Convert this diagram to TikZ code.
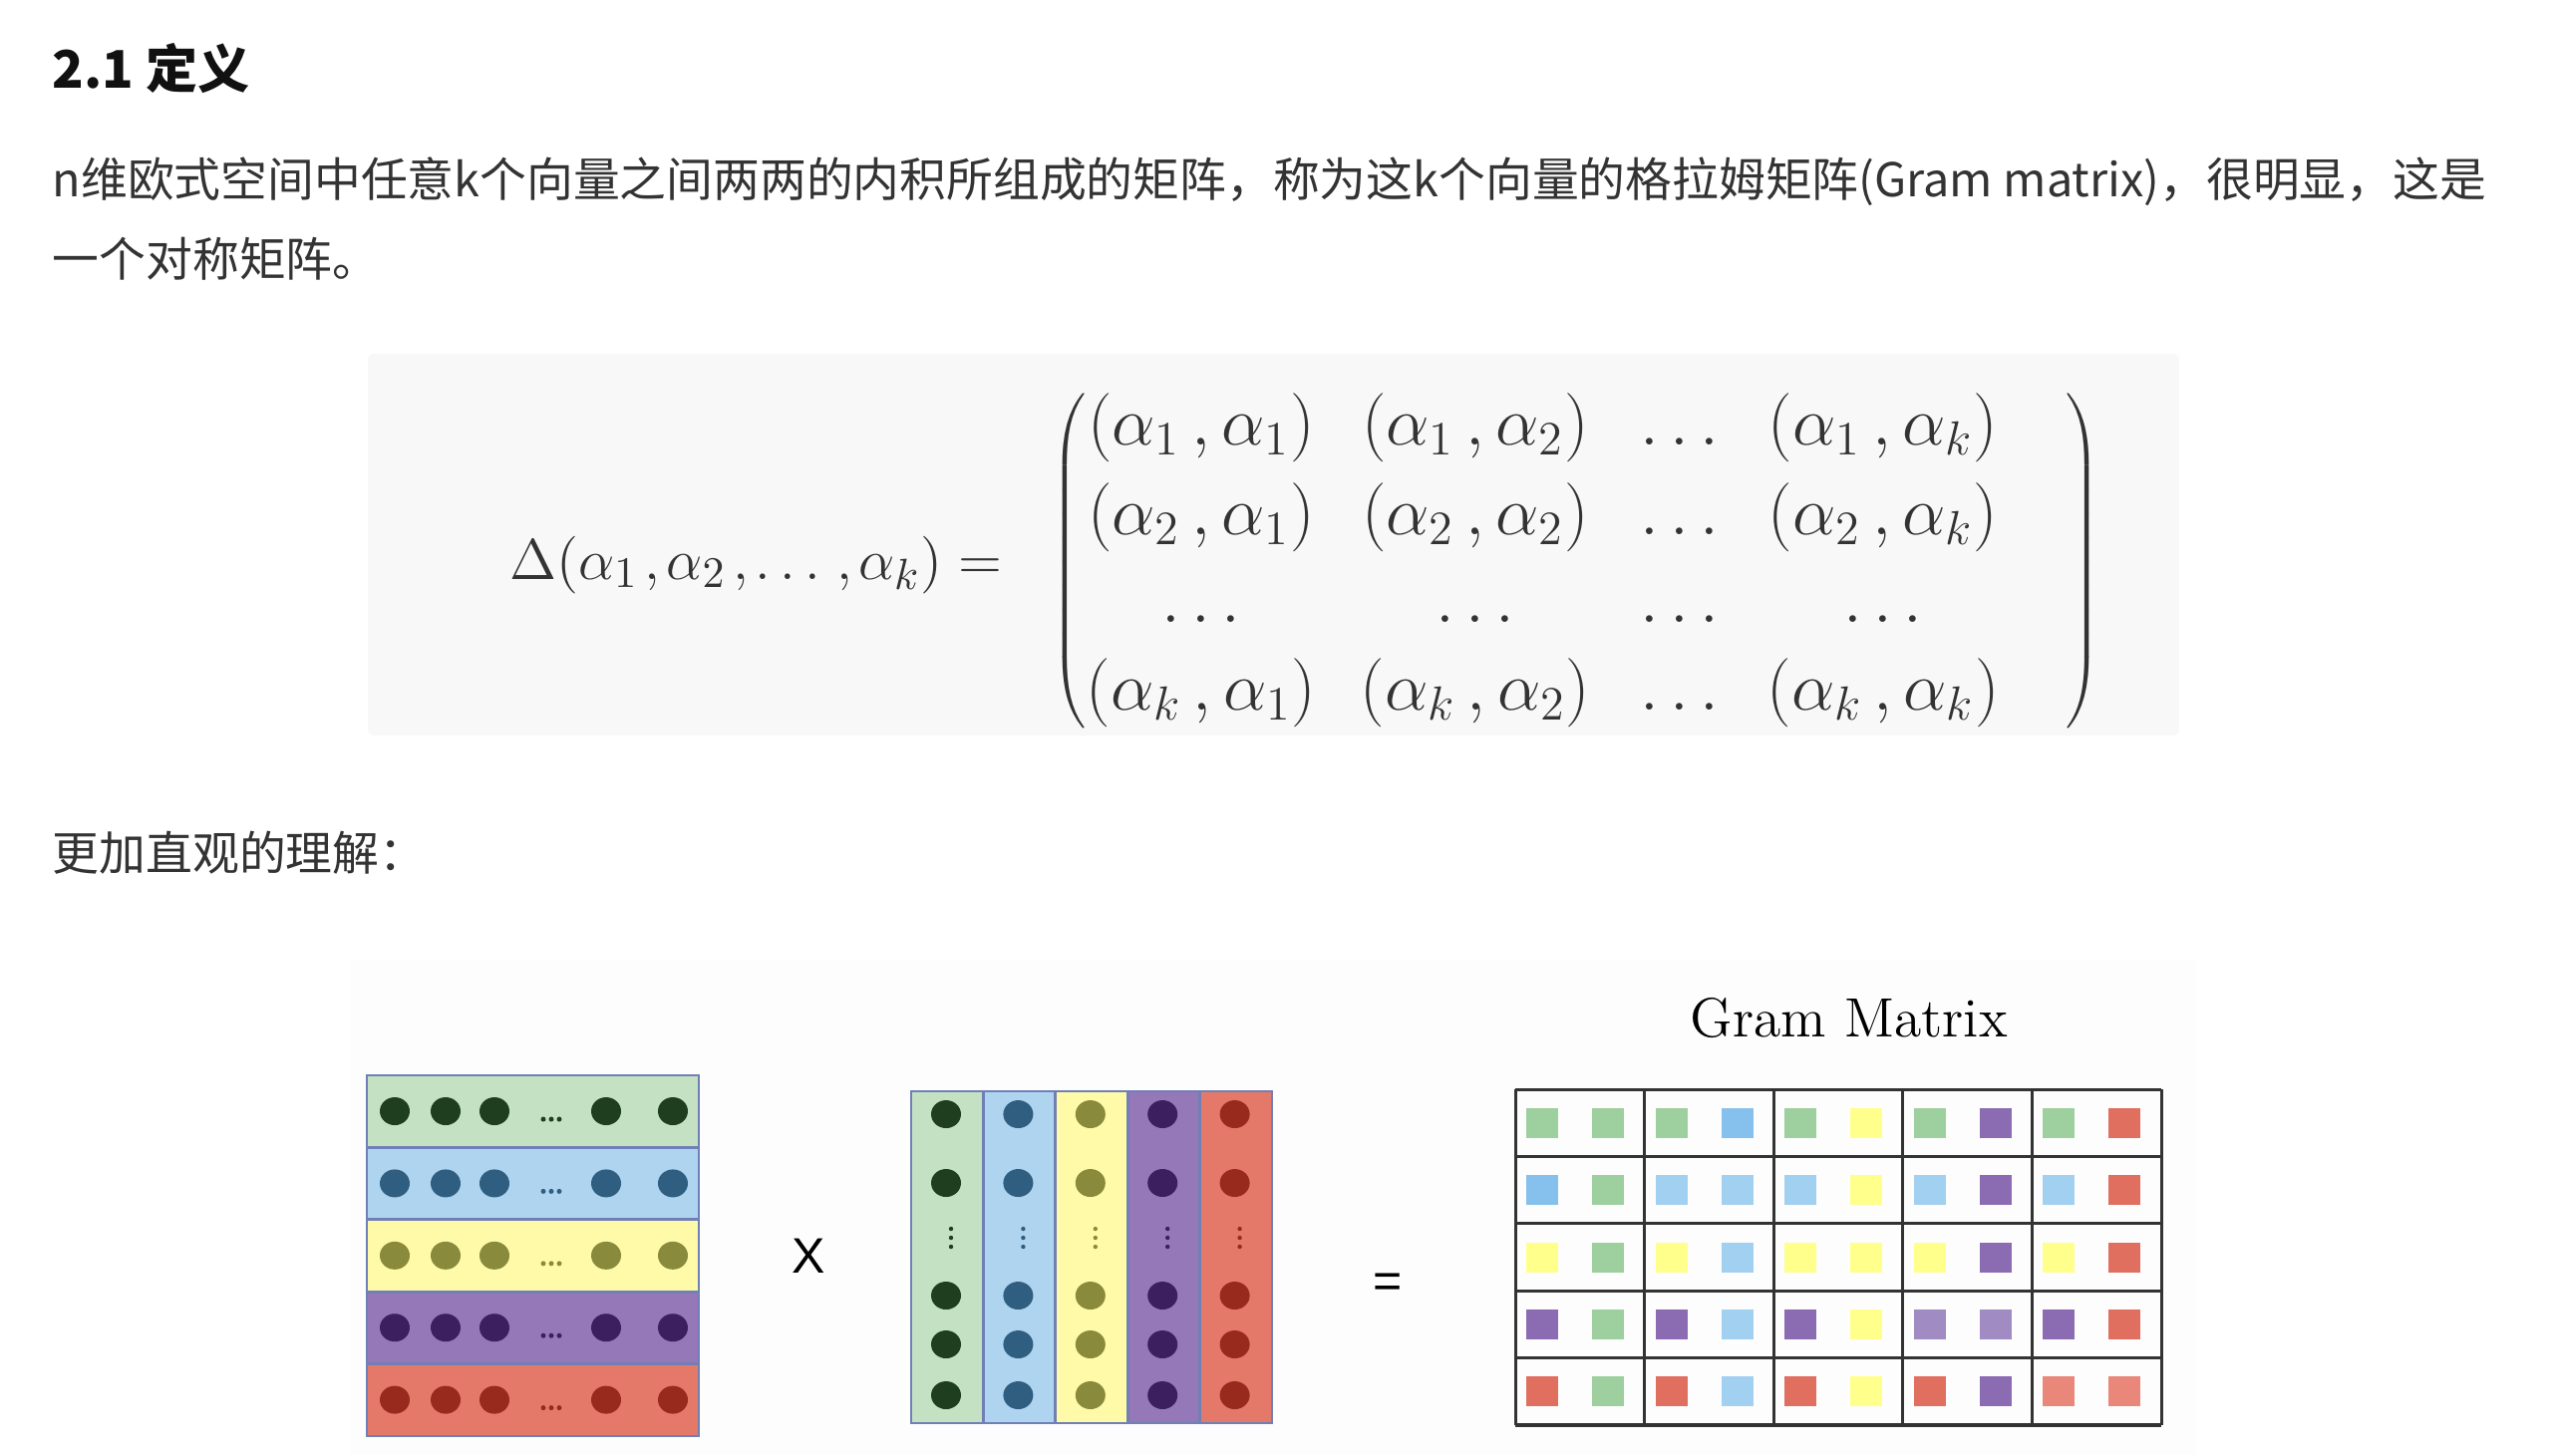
\documentclass[tikz,border=0pt]{standalone}
\usepackage[no-math]{fontspec}
\newfontfamily\cjk{Noto Sans CJK SC}
\newfontfamily\sansx{Liberation Sans}
\definecolor{txt}{HTML}{333333}
\definecolor{headc}{HTML}{111111}
\definecolor{boxbg}{HTML}{F8F8F8}
\definecolor{figbg}{HTML}{FDFDFD}
\definecolor{mathc}{HTML}{333333}
\definecolor{edge}{HTML}{7080B6}
\definecolor{gbg}{HTML}{C4E1C4}\definecolor{gdot}{HTML}{1F3D1F}
\definecolor{bbg}{HTML}{AED4F0}\definecolor{bdot}{HTML}{2F5E80}
\definecolor{ybg}{HTML}{FFFAA8}\definecolor{ydot}{HTML}{8A8A3C}
\definecolor{pbg}{HTML}{9478B8}\definecolor{pdot}{HTML}{3C1F5E}
\definecolor{rbg}{HTML}{E4796A}\definecolor{rdot}{HTML}{982A1D}
\definecolor{gridc}{HTML}{333333}
\definecolor{sqg}{HTML}{9ECF9E}
\definecolor{sqb}{HTML}{86C0EC}
\definecolor{sqlb}{HTML}{A2D0F0}
\definecolor{sqy}{HTML}{FFFF8C}
\definecolor{sqp}{HTML}{8B6CB3}
\definecolor{sqlp}{HTML}{A08BC2}
\definecolor{sqr}{HTML}{E06F60}
\definecolor{sqlr}{HTML}{E8877A}
\newcommand\cm{\mkern3mu,}
\newcommand\cmb{\mkern2mu,\mkern-1mu}
\begin{document}
\begin{tikzpicture}[x=0.25pt,y=-0.25pt,
  para/.style={font=\cjk\fontsize{11.7}{14}\selectfont,text=txt,anchor=base west,inner sep=0pt},
  heading/.style={font=\cjk\bfseries\fontsize{13}{16}\selectfont,text=headc,anchor=base west,inner sep=0pt},
  mtext/.style={font=\fontsize{16.5}{19}\selectfont,text=mathc,anchor=base,inner sep=0pt},
  band/.style={draw=edge,line width=0.7pt},
  gridline/.style={draw=gridc,line width=0.75pt},
  opsign/.style={font=\sansx\fontsize{12.5}{14}\selectfont,text=black,inner sep=0pt}
]
\useasboundingbox (0,0) rectangle (2568,1460);
\fill[white] (0,0) rectangle (2568,1460);

% ---- text ----
\node[heading] (head) at (52,88) {2.1 定义};
\node[para] (p1) at (52,197) {n维欧式空间中任意k个向量之间两两的内积所组成的矩阵，称为这k个向量的格拉姆矩阵(Gram matrix)，很明显，这是};
\node[para] (p2) at (52,277) {一个对称矩阵。};
\node[para] (p3) at (52,873) {更加直观的理解：};

% ---- formula ----
\fill[boxbg, rounded corners=1.5pt] (369,355) rectangle (2186,738);
\node[mtext,font=\fontsize{15.75}{19}\selectfont,anchor=base east] (lhs) at (1006,581) {$\Delta(\alpha_1\cmb\alpha_2\cmb\ldots\cmb\alpha_k) =$};
\node[mtext,anchor=west] (lpar) at (1054,563) {$\left(\vcenter to 84pt{\vfil}\right.$};
\node[mtext,anchor=east] (rpar) at (2108,563) {$\left.\vcenter to 84pt{\vfil}\right)$};
\foreach \r/\yy in {1/446,2/536,k/712}{
  \node[mtext] (e\r a) at (1205,\yy) {$(\alpha_\r\cm\alpha_1)$};
  \node[mtext] (e\r b) at (1480,\yy) {$(\alpha_\r\cm\alpha_2)$};
  \node[mtext] (e\r c) at (1685,\yy) {$\ldots$};
  \node[mtext] (e\r d) at (1889,\yy) {$(\alpha_\r\cm\alpha_k)$};
}
\foreach \x [count=\c] in {1205,1480,1685,1889}
  \node[mtext] (dots\c) at (\x,624) {$\ldots$};

% ---- figure ----
\fill[figbg] (352,963) rectangle (2203,1460);

% left matrix (rows)
\foreach \bg/\dc [count=\i from 0] in {gbg/gdot,bbg/bdot,ybg/ydot,pbg/pdot,rbg/rdot}{
  \pgfmathsetmacro\rt{1079+72.4*\i}
  \draw[band,fill=\bg] (368,\rt) rectangle (701,\rt+72.4);
  \foreach \x in {396,447,496,608,675}
    \fill[\dc] (\x,\rt+36) ellipse [x radius=15,y radius=14];
  \foreach \x in {545,553,561}
    \fill[\dc] (\x,\rt+44) circle [radius=2.5];
}

\node[opsign] (times) at (811,1260) {X};

% right matrix (columns)
\foreach \bg/\dc [count=\i from 0] in {gbg/gdot,bbg/bdot,ybg/ydot,pbg/pdot,rbg/rdot}{
  \pgfmathsetmacro\cl{914+72.4*\i}
  \draw[band,fill=\bg] (\cl,1095) rectangle (\cl+72.4,1428);
  \foreach \y in {1118,1187,1300,1349,1400}
    \fill[\dc] (\cl+35,\y) ellipse [x radius=15,y radius=14];
  \foreach \y in {1233,1242,1251}
    \fill[\dc] (\cl+40,\y) circle [radius=2.2];
}

\node[opsign] (equals) at (1392,1290) {=};

% Gram matrix
\node[font=\fontsize{13.9}{16}\selectfont,anchor=base west,inner sep=0pt] (gtitle) at (1695,1040) {Gram Matrix};
\foreach \row [count=\i from 0] in {
  {sqg/sqg,sqg/sqb,sqg/sqy,sqg/sqp,sqg/sqr},
  {sqb/sqg,sqlb/sqlb,sqlb/sqy,sqlb/sqp,sqlb/sqr},
  {sqy/sqg,sqy/sqlb,sqy/sqy,sqy/sqp,sqy/sqr},
  {sqp/sqg,sqp/sqlb,sqp/sqy,sqlp/sqlp,sqp/sqr},
  {sqr/sqg,sqr/sqlb,sqr/sqy,sqr/sqp,sqlr/sqlr}}{
  \foreach \lc/\rc [count=\j from 0] in \row {
    \pgfmathsetmacro\cx{1520+129.6*\j}
    \pgfmathsetmacro\cy{1093+67.4*\i+33.7}
    \fill[\lc] (\cx+11,\cy-15) rectangle (\cx+43,\cy+15);
    \fill[\rc] (\cx+77,\cy-15) rectangle (\cx+109,\cy+15);
  }
}
\foreach \j in {0,...,5}
  \draw[gridline] (1520+129.6*\j,1093) -- (1520+129.6*\j,1430);
\foreach \i in {0,...,4}
  \draw[gridline] (1520,1093+67.4*\i) -- (2168,1093+67.4*\i);
\draw[gridc,line width=1.2pt] (1520,1430) -- (2168,1430);
\end{tikzpicture}
\end{document}
